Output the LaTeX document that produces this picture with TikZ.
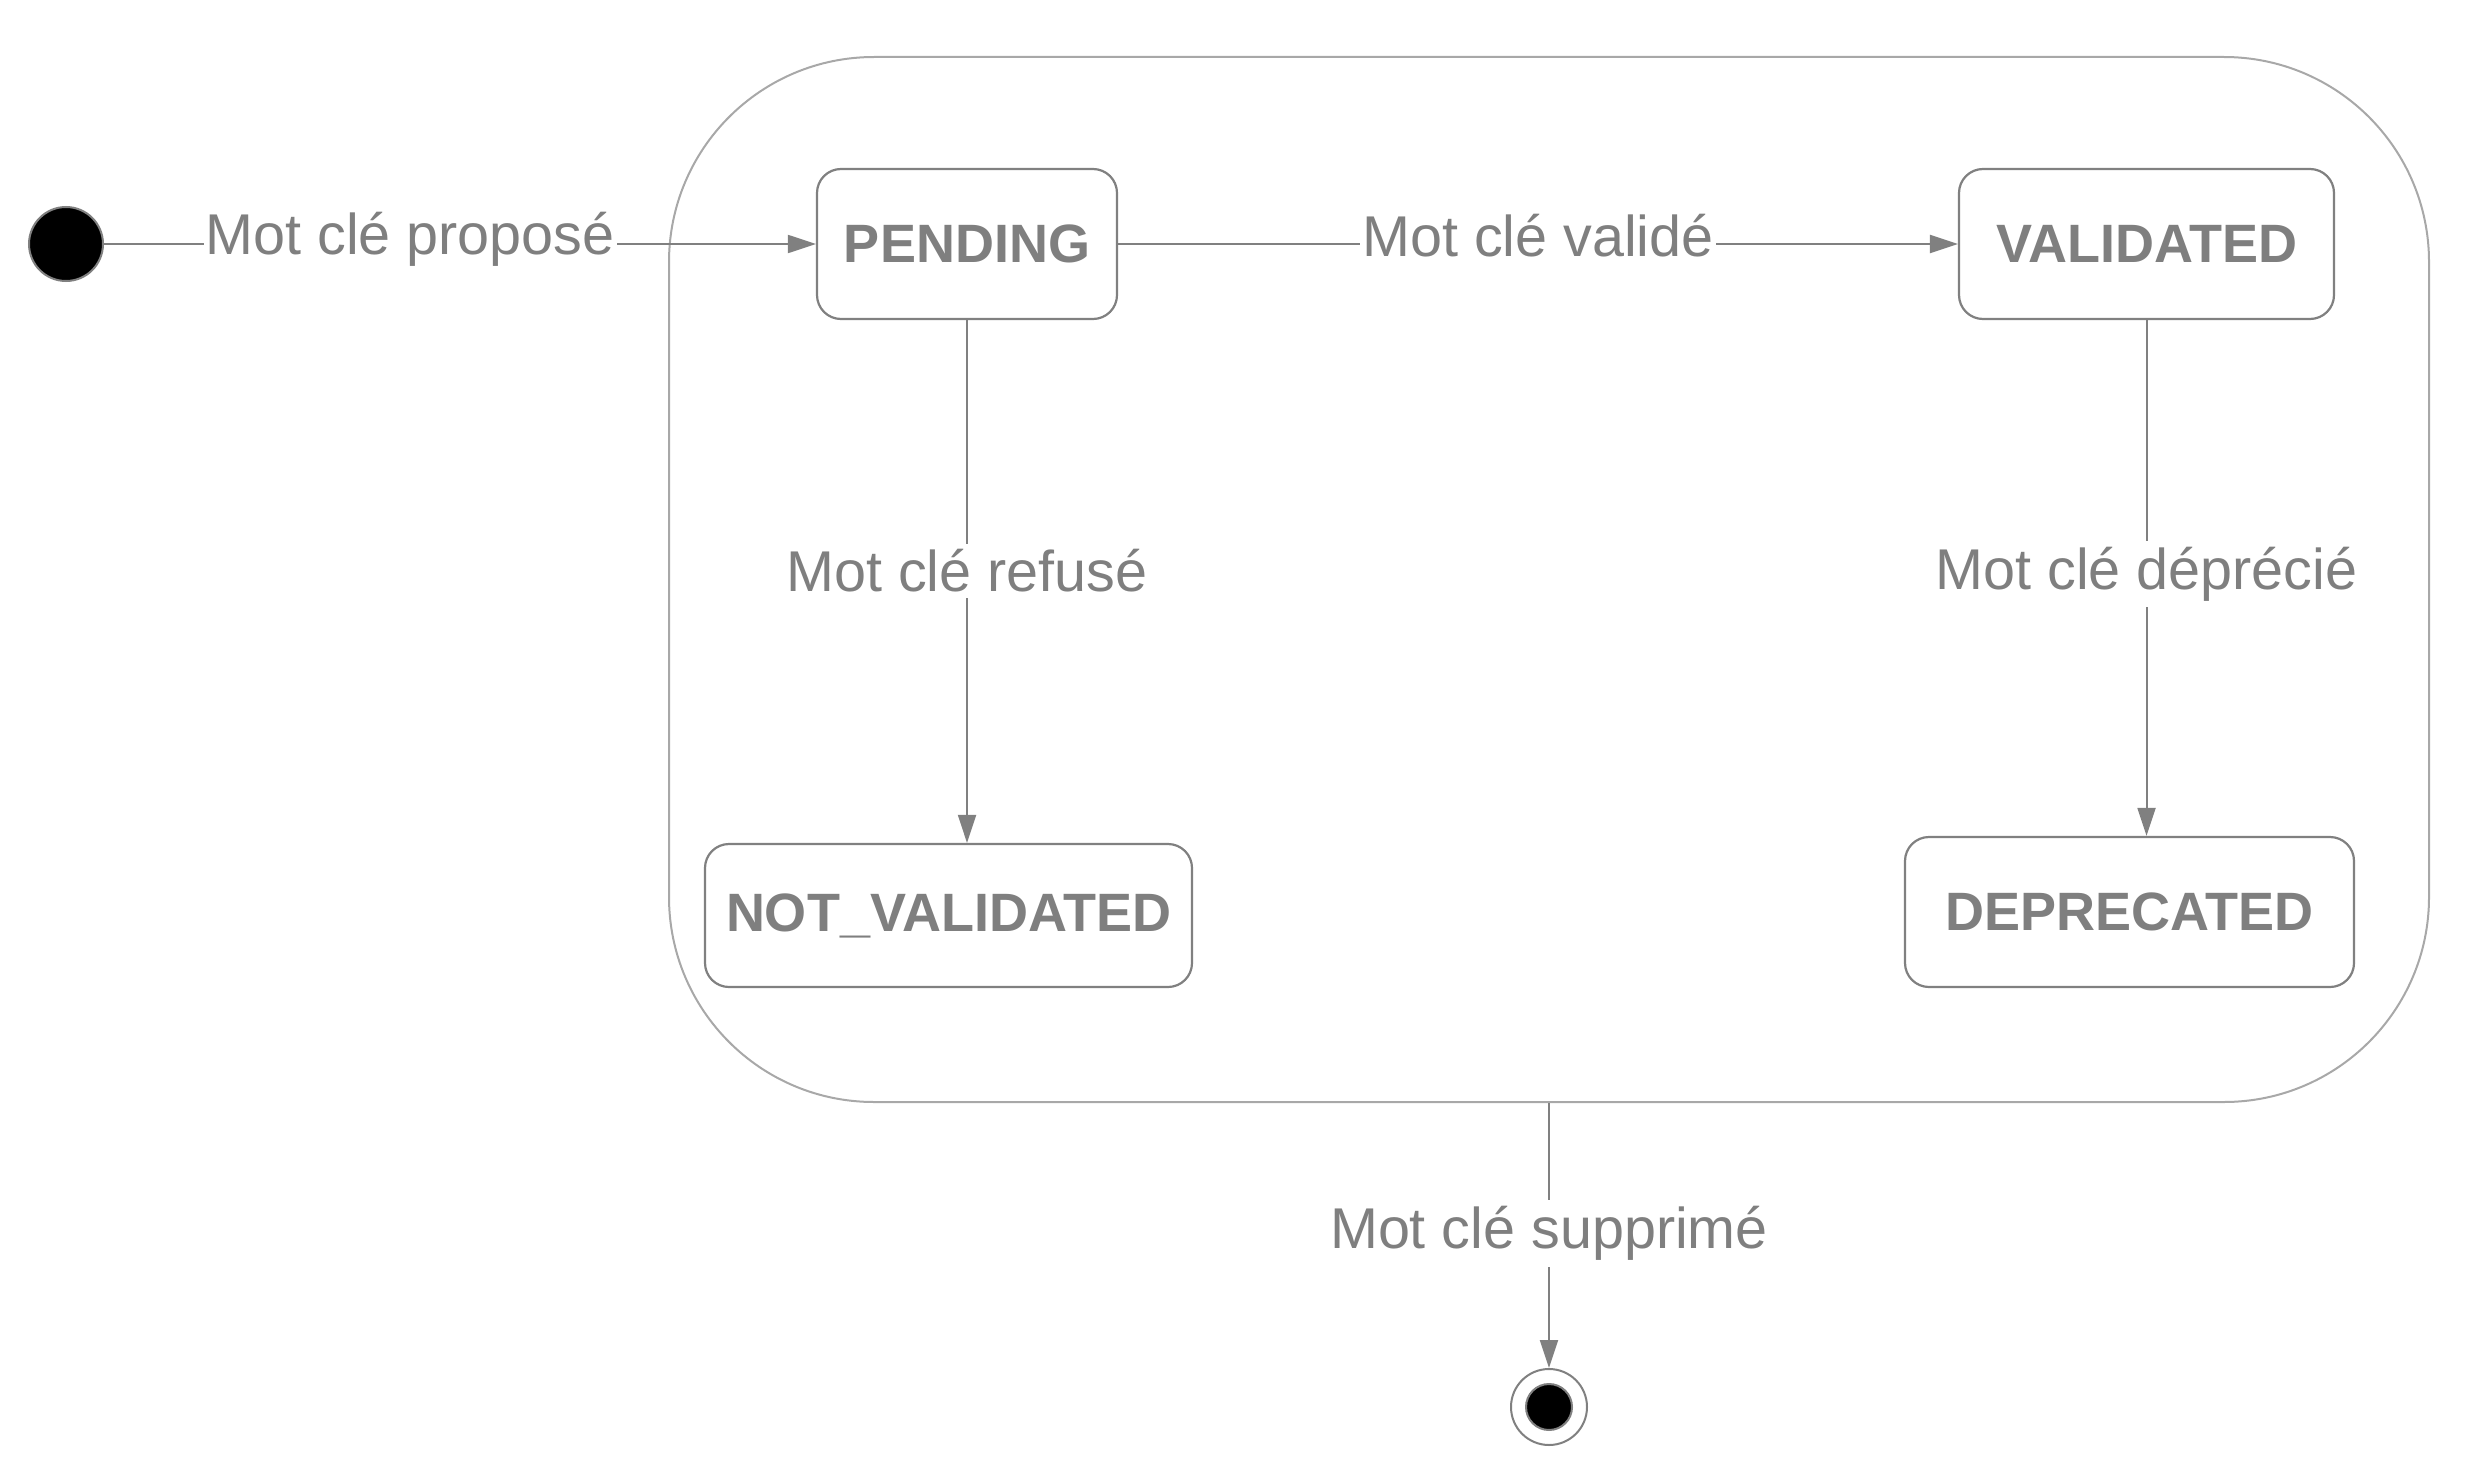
\documentclass[tikz,border=0pt]{standalone}
\usepackage{fontspec}
\setmainfont{Liberation Sans}
\usetikzlibrary{arrows.meta}
\definecolor{txtgray}{HTML}{7F7F7F}
\definecolor{linegray}{HTML}{808080}
\definecolor{framegray}{HTML}{A8A8A8}
\tikzset{
  statebox/.style={draw=linegray, line width=2.2pt, rounded corners=24pt, fill=white,
    inner sep=0pt, text=txtgray, font=\fontsize{54}{57}\selectfont\bfseries},
  lab/.style={font=\fontsize{57.5}{62}\selectfont, text=txtgray, fill=white, inner sep=2pt},
  conn/.style={draw=linegray, line width=2pt, -{Triangle[length=28pt,width=18pt]}},
  plain/.style={draw=linegray, line width=2pt}
}
\begin{document}
\begin{tikzpicture}[x=1pt,y=-1pt]
\useasboundingbox (0,0) rectangle (2473,1474);
% composite state frame
\node[draw=framegray, line width=2pt, rounded corners=205pt, minimum width=1760pt, minimum height=1045pt, inner sep=0pt] (frame) at (1549,579.5) {};
% initial and final states
\node[circle, fill=black, draw=linegray, line width=2pt, minimum size=74pt, inner sep=0pt] (init) at (66,244) {};
\node[circle, fill=white, draw=linegray, line width=2pt, minimum size=76pt, inner sep=0pt] (final) at (1549,1407) {};
\node[circle, fill=black, draw=linegray, line width=2pt, minimum size=46pt, inner sep=0pt] (finalin) at (1549,1407) {};
% states
\node[statebox, minimum width=300pt, minimum height=150pt] (pend) at (967,244) {PENDING};
\node[statebox, minimum width=375pt, minimum height=150pt] (val) at (2146.5,244) {VALIDATED};
\node[statebox, minimum width=487pt, minimum height=143pt] (notval) at (948.5,915.5) {NOT\_VALIDATED};
\node[statebox, minimum width=449pt, minimum height=150pt] (depr) at (2129.5,912) {DEPRECATED};
% transitions
\draw[conn] (init) -- node[lab, pos=0.43, yshift=5pt] (l1) {Mot clé proposé} (pend);
\draw[conn] (pend) -- node[lab, pos=0.5, yshift=8pt] (l2) {Mot clé validé} (val);
\draw[conn] (pend.south) -- node[lab, pos=0.48, inner sep=6pt] (l3) {Mot clé refusé} (pend.south |- notval.north);
\draw[conn] (val.south) -- node[lab, pos=0.492, inner sep=6pt] (l4) {Mot clé déprécié} (val.south |- depr.north);
\draw[conn] (frame.south) -- node[lab, pos=0.492, inner sep=6pt] (l5) {Mot clé supprimé} (final.north);
\end{tikzpicture}
\end{document}
